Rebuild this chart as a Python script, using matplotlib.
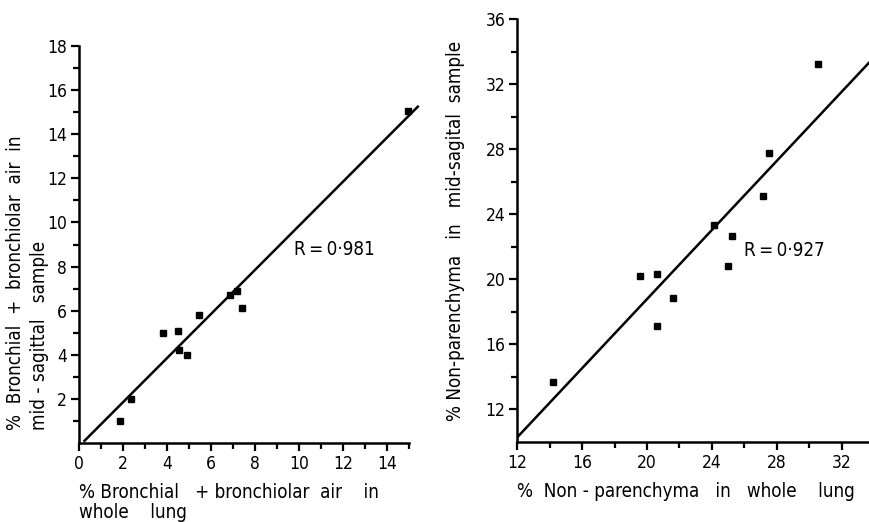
import matplotlib
matplotlib.use("Agg")
import matplotlib.pyplot as plt
import numpy as np
from matplotlib.ticker import FixedLocator

plt.rcParams['font.family'] = ['DejaVu Sans']
plt.rcParams['font.stretch'] = 'condensed'

# Left panel: bronchial + bronchiolar air
bron_whole = [1.85, 2.35, 3.8, 4.5, 4.55, 4.9, 5.45, 6.85, 7.2, 7.4, 14.95]
bron_mid = [1.0, 2.0, 5.0, 5.1, 4.2, 4.0, 5.8, 6.7, 6.9, 6.1, 15.05]
bron_fit = [1.0, -0.15]          # slope, intercept
bron_fit_range = [0.25, 15.4]
bron_r = "R\u2009=\u20090·981"

# Right panel: non-parenchyma
np_whole = [14.2, 19.55, 20.6, 20.6, 21.6, 24.1, 25.0, 25.25, 27.15, 27.55, 30.55]
np_mid = [13.7, 20.2, 20.35, 17.1, 18.85, 23.35, 20.8, 22.65, 25.1, 27.8, 33.25]
np_fit = [1.063, -2.48]
np_fit_range = [12.0, 33.8]
np_r = "R\u2009=\u20090·927"

left_xticks = [0, 2, 4, 6, 8, 10, 12, 14]
left_yticks = [2, 4, 6, 8, 10, 12, 14, 16, 18]
right_xticks = [12, 16, 20, 24, 28, 32]
right_yticks = [12, 16, 20, 24, 28, 32, 36]

fig = plt.figure(figsize=(8.7, 5.22), dpi=100)
ax1 = fig.add_axes([0.0908, 0.1513, 0.3945, 0.7605])
ax2 = fig.add_axes([0.5946, 0.1538, 0.4054, 0.8092])

TICK_FS = 12.5
LAB_FS = 13.5

def style(ax):
    for s in ['top', 'right']:
        ax.spines[s].set_visible(False)
    for s in ['left', 'bottom']:
        ax.spines[s].set_linewidth(1.8)
    ax.tick_params(which='both', direction='out', width=1.6, labelsize=TICK_FS, pad=3)
    ax.tick_params(which='major', length=5.5)
    ax.tick_params(which='minor', length=4)
    ax.patch.set_alpha(0)

# Left
style(ax1)
ax1.set_xlim(0, 15.6)
ax1.set_ylim(0, 18)
ax1.spines['bottom'].set_bounds(0, 15)
ax1.spines['left'].set_bounds(0, 18)
ax1.xaxis.set_major_locator(FixedLocator(left_xticks))
ax1.xaxis.set_minor_locator(FixedLocator(np.arange(1, 16, 2)))
ax1.yaxis.set_major_locator(FixedLocator(left_yticks))
ax1.yaxis.set_minor_locator(FixedLocator(np.arange(1, 18, 2)))
ax1.plot(bron_whole, bron_mid, 's', color='black', markersize=4.3, clip_on=False)
xs = np.array(bron_fit_range)
ax1.plot(xs, bron_fit[0] * xs + bron_fit[1], color='black', lw=1.8, clip_on=False)
ax1.text(9.75, 8.77, bron_r, fontsize=LAB_FS, va='center', ha='left')
ax1.set_xlabel("% Bronchial   + bronchiolar  air    in\nwhole    lung", fontsize=LAB_FS,
               ha='left', va='top', multialignment='left', linespacing=1.1)
ax1.xaxis.set_label_coords(0.0, -0.100)
ax1.set_ylabel("%  Bronchial  +  bronchiolar  air  in\nmid - sagittal   sample", fontsize=LAB_FS,
               ha='left', va='center', multialignment='left', linespacing=1.3)
ax1.yaxis.set_label_coords(-0.150, 0.033)

# Right
style(ax2)
ax2.set_xlim(12, 33.75)
ax2.set_ylim(10, 36)
ax2.spines['left'].set_bounds(10, 36)
ax2.xaxis.set_major_locator(FixedLocator(right_xticks))
ax2.xaxis.set_minor_locator(FixedLocator(np.arange(14, 34, 4)))
ax2.yaxis.set_major_locator(FixedLocator(right_yticks))
ax2.yaxis.set_minor_locator(FixedLocator(np.arange(14, 36, 4)))
ax2.plot(np_whole, np_mid, 's', color='black', markersize=4.3, clip_on=False)
xs = np.array(np_fit_range)
ax2.plot(xs, np_fit[0] * xs + np_fit[1], color='black', lw=1.8)
ax2.text(26.0, 21.77, np_r, fontsize=LAB_FS, va='center', ha='left')
ax2.set_xlabel("%  Non - parenchyma   in   whole    lung", fontsize=LAB_FS, ha='left', va='top')
ax2.xaxis.set_label_coords(0.0, -0.095)
ax2.set_ylabel("% Non-parenchyma   in   mid-sagital  sample", fontsize=LAB_FS,
               ha='center', va='center')
ax2.yaxis.set_label_coords(-0.1766, 0.499)

fig.savefig("out.png", dpi=100)
